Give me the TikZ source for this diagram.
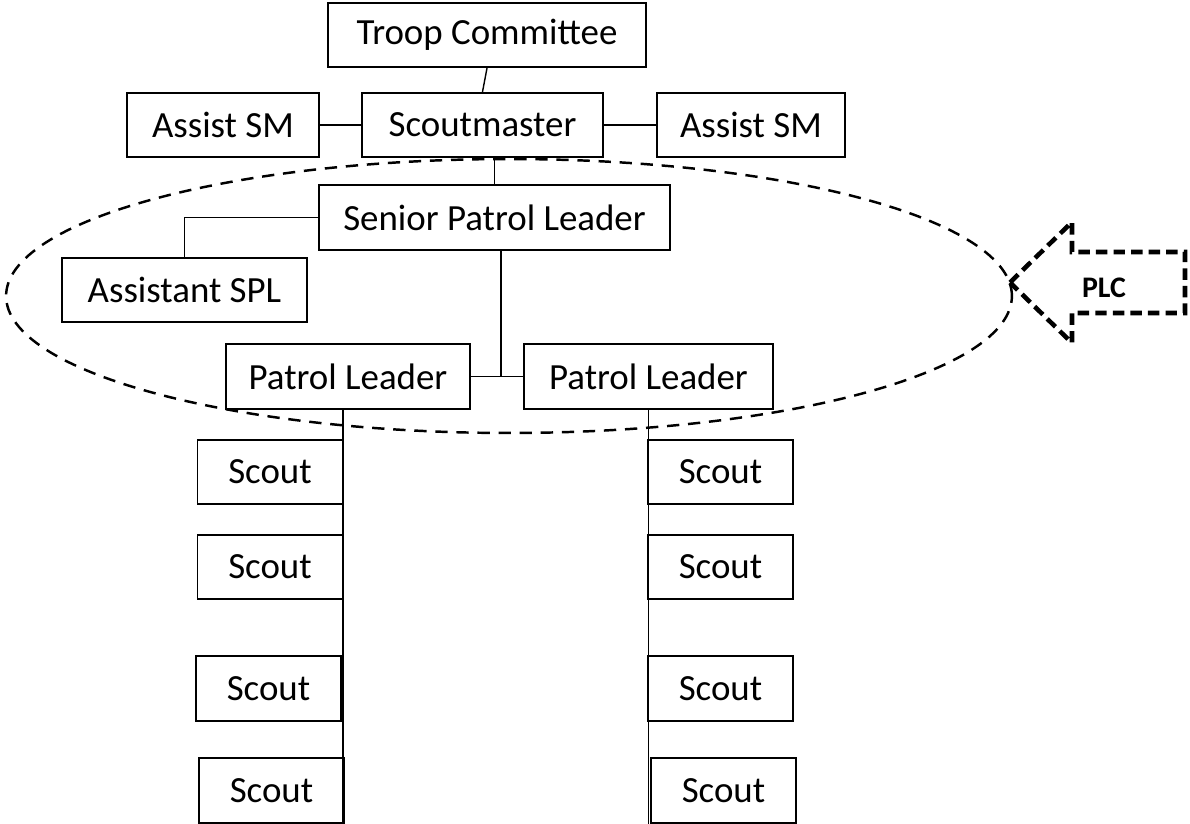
\documentclass[tikz,border=0pt]{standalone}
\usepackage{fontspec}
\setmainfont{Carlito}

\begin{document}
\begin{tikzpicture}[x=0.02cm,y=-0.02cm,
    box/.style={draw,line width=1pt,inner sep=0pt,minimum height=1.29cm,
      font=\fontsize{21}{25}\selectfont},
    scoutbox/.style={box,minimum width=2.9cm},
    link/.style={line width=0.8pt},
    ring/.style={line width=1.4pt,dash pattern=on 7pt off 5pt},
    plcarrow/.style={line width=2.6pt,dash pattern=on 6.5pt off 3.5pt}]
  \useasboundingbox (0,0) rectangle (1190,824);

  \node[box,minimum width=6.36cm] (tc) at (487,35) {Troop Committee};
  \node[box,minimum width=3.84cm] (asm1) at (223,125) {Assist SM};
  \node[box,minimum width=4.82cm] (sm) at (482.5,125) {Scoutmaster};
  \node[box,minimum width=3.76cm] (asm2) at (751,125) {Assist SM};
  \node[box,minimum width=7.02cm] (spl) at (494.5,217.5) {Senior Patrol Leader};
  \node[box,minimum width=4.9cm] (aspl) at (184.5,290) {Assistant SPL};
  \node[box,minimum width=4.88cm] (pl1) at (348,376.5) {Patrol Leader};
  \node[box,minimum width=4.98cm] (pl2) at (648.5,376.5) {Patrol Leader};

  \node[scoutbox] (s1) at (270,472) {Scout};
  \node[scoutbox] (s2) at (270,567) {Scout};
  \node[scoutbox] (s3) at (268.5,688.5) {Scout};
  \node[scoutbox] (s4) at (271.5,790.5) {Scout};
  \node[scoutbox] (s5) at (720.5,472) {Scout};
  \node[scoutbox] (s6) at (720.5,567) {Scout};
  \node[scoutbox] (s7) at (720.5,688.5) {Scout};
  \node[scoutbox] (s8) at (723.5,790.5) {Scout};

  \coordinate (j) at (501,376.5);
  \coordinate (lend) at (343,824);
  \coordinate (rend) at (648.5,824);

  \draw[link] (tc.south) -- (sm.north);
  \draw[link] (asm1.east) -- (sm.west);
  \draw[link] (sm.east) -- (asm2.west);
  \draw[link] (sm.south -| spl.north) -- (spl.north);
  \draw[link] (spl.west) -| (aspl.north);
  \draw[link] (spl.south -| j) -- (j);
  \draw[link] (pl1.east) -- (pl2.west);
  \draw[link] (pl1.south -| lend) -- (lend);
  \draw[link] (pl2.south) -- (rend);

  % patrol leaders' council
  \draw[ring] (509,296) ellipse [x radius=10.06cm,y radius=2.74cm];
  \draw[plcarrow] (1010,282.5) -- (1072,222) -- (1072,252) -- (1185,252)
    -- (1185,313) -- (1072,313) -- (1072,343) -- cycle;
  \node[font=\fontsize{17}{20}\selectfont\bfseries] (plc) at (1104,288) {PLC};
\end{tikzpicture}
\end{document}
